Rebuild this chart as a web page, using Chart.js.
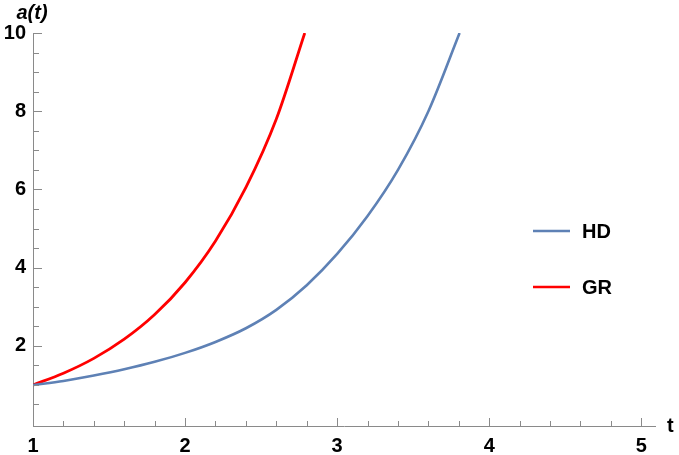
<!DOCTYPE html>
<html>
<head>
<meta charset="utf-8">
<script src="https://cdn.jsdelivr.net/npm/chart.js@4.4.0/dist/chart.umd.min.js"></script>
<style>
  html, body { margin: 0; padding: 0; background: #fff; }
  #wrap { width: 679px; height: 455px; position: relative; }
</style>
</head>
<body>
<div id="wrap"><canvas id="myChart"></canvas></div>
<script>
const hdTime = [1.0, 1.2, 1.4, 1.6, 1.8, 2.0, 2.2, 2.4, 2.6, 2.8, 3.0, 3.2, 3.4, 3.6, 3.805];
const hdValues = [1.00, 1.10, 1.24, 1.40, 1.59, 1.82, 2.10, 2.45, 2.92, 3.55, 4.35, 5.32, 6.50, 8.00, 10.0];

const grTime = [1.0, 1.2, 1.4, 1.6, 1.8, 2.0, 2.2, 2.4, 2.6, 2.787];
const grValues = [1.00, 1.30, 1.68, 2.17, 2.80, 3.62, 4.68, 6.05, 7.80, 10.0];

const xTicks = [1, 2, 3, 4, 5];
const yTicks = [2, 4, 6, 8, 10];

const axisColor = '#8a8a8a';
const fontFamily = '"Liberation Sans", Arial, sans-serif';

const toPoints = (ts, vs) => ts.map((t, i) => ({ x: t, y: vs[i] }));

// Mathematica-style ticks drawn inward, axis labels and the legend
const framePlugin = {
    id: 'frame',
    afterDraw(chart) {
        const c = chart.ctx;
        const xs = chart.scales.x;
        const ys = chart.scales.y;
        const x0 = xs.left;
        const y0 = ys.bottom;
        c.save();
        c.strokeStyle = axisColor;
        c.lineWidth = 1;
        c.beginPath();
        for (let v = 1; v <= 5.001; v += 0.2) {
            const px = Math.round(xs.getPixelForValue(v)) + 0.5;
            const major = Math.abs(v - Math.round(v)) < 0.01;
            c.moveTo(px, y0);
            c.lineTo(px, y0 - (major ? 8 : 5));
        }
        for (let v = 0.5; v <= 10.001; v += 0.5) {
            const py = Math.round(ys.getPixelForValue(v)) + 0.5;
            const major = Math.abs(v / 2 - Math.round(v / 2)) < 0.01;
            c.moveTo(x0, py);
            c.lineTo(x0 + (major ? 9 : 6), py);
        }
        c.stroke();

        c.fillStyle = '#000';
        c.font = 'italic bold 20px ' + fontFamily;
        c.textAlign = 'center';
        c.textBaseline = 'alphabetic';
        c.fillText('a(t)', 32, 19);
        c.font = 'bold 20px ' + fontFamily;
        c.textAlign = 'left';
        c.fillText('t', 667, 432);

        const items = [
            { label: 'HD', color: '#5e81b5', y: 231 },
            { label: 'GR', color: '#ff0000', y: 287 }
        ];
        c.textBaseline = 'middle';
        items.forEach(it => {
            c.strokeStyle = it.color;
            c.lineWidth = 2.5;
            c.beginPath();
            c.moveTo(533, it.y);
            c.lineTo(570, it.y);
            c.stroke();
            c.fillStyle = '#000';
            c.fillText(it.label, 582, it.y + 1);
        });
        c.restore();
    }
};

const ctx = document.getElementById('myChart');

new Chart(ctx, {
    type: 'line',
    data: {
        datasets: [
            {
                label: 'HD',
                data: toPoints(hdTime, hdValues),
                borderColor: '#5e81b5',
                borderWidth: 2.6,
                pointRadius: 0,
                cubicInterpolationMode: 'monotone'
            },
            {
                label: 'GR',
                data: toPoints(grTime, grValues),
                borderColor: '#ff0000',
                borderWidth: 2.8,
                pointRadius: 0,
                cubicInterpolationMode: 'monotone'
            }
        ]
    },
    options: {
        responsive: true,
        maintainAspectRatio: false,
        animation: false,
        layout: {
            padding: { top: 33, right: 24, left: 0, bottom: 0 }
        },
        scales: {
            x: {
                type: 'linear',
                min: 1,
                max: 5.09,
                afterBuildTicks: scale => { scale.ticks = xTicks.map(v => ({ value: v })); },
                afterFit: scale => { scale.height = 29; },
                grid: { display: false, drawTicks: false },
                border: { color: axisColor, width: 1 },
                ticks: {
                    color: '#000',
                    padding: 8,
                    font: { family: fontFamily, size: 20, weight: 'bold' }
                }
            },
            y: {
                min: -0.05,
                max: 10,
                afterBuildTicks: scale => { scale.ticks = yTicks.map(v => ({ value: v })); },
                afterFit: scale => { scale.width = 33; },
                grid: { display: false, drawTicks: false },
                border: { color: axisColor, width: 1 },
                ticks: {
                    color: '#000',
                    padding: 7,
                    font: { family: fontFamily, size: 20, weight: 'bold' }
                }
            }
        },
        plugins: {
            legend: { display: false },
            tooltip: { enabled: false }
        }
    },
    plugins: [framePlugin]
});
</script>
</body>
</html>
